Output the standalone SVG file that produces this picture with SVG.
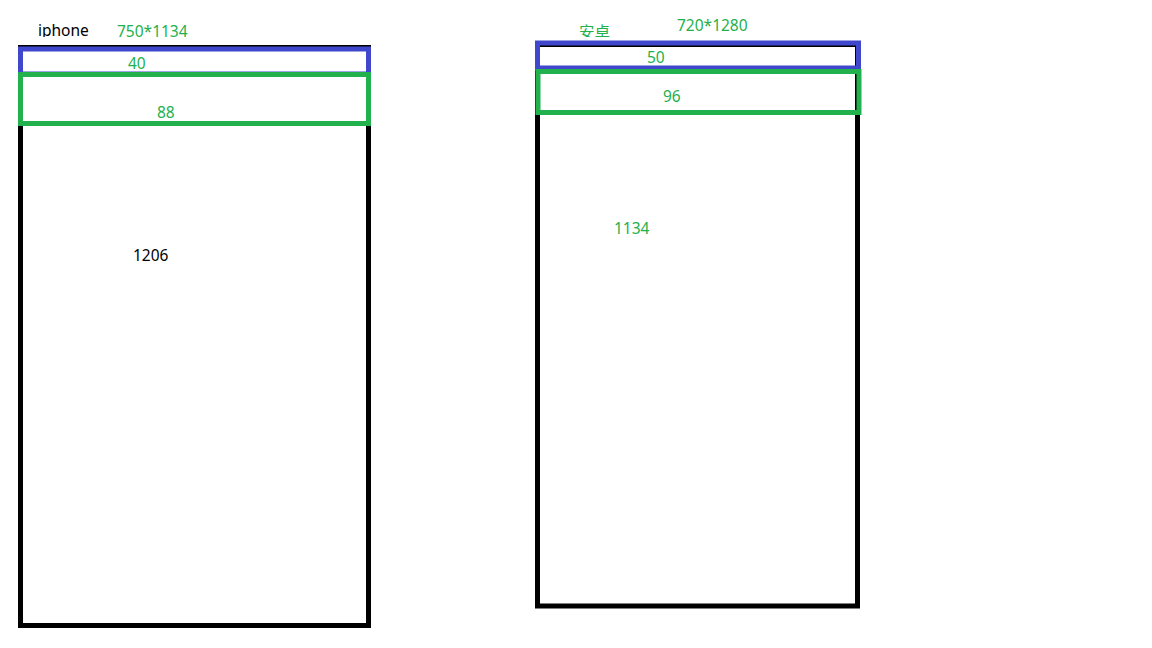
<svg xmlns="http://www.w3.org/2000/svg" width="1152" height="648" viewBox="0 0 1152 648">
  <defs>
    <style>
      .frame { fill: none; stroke: #000000; stroke-width: 5; }
      .status { fill: none; stroke: #3f48cc; stroke-width: 5; }
      .navbar { fill: none; stroke: #22b14c; stroke-width: 5; }
      text { font-family: "Noto Sans", "Noto Sans CJK SC", sans-serif; font-size: 15.5px; }
      .g { fill: #22b14c; }
      .k { fill: #000000; }
    </style>
    <clipPath id="topClip">
      <rect x="0" y="0" width="1152" height="37"/>
    </clipPath>
  </defs>
  <rect width="1152" height="648" fill="#ffffff"/>

  <!-- iPhone screen 750*1134 -->
  <g id="iphone">
    <rect class="frame" x="20.5" y="47.5" width="348" height="578"/>
    <rect class="status" x="20.5" y="49" width="348" height="25"/>
    <rect class="navbar" x="20.5" y="74.5" width="348" height="49"/>
    <text class="k" x="38" y="36" clip-path="url(#topClip)">iphone</text>
    <text class="g" x="117" y="37">750*1134</text>
    <text class="g" x="128" y="69">40</text>
    <text class="g" x="157" y="118">88</text>
    <text class="k" x="133" y="261">1206</text>
  </g>

  <!-- Android screen 720*1280 -->
  <g id="android">
    <rect class="frame" x="537.5" y="44.5" width="320" height="561.5"/>
    <rect class="status" x="537.5" y="43" width="321" height="25"/>
    <rect class="navbar" x="538" y="71.5" width="321" height="41"/>
    <text class="g" x="579" y="38" clip-path="url(#topClip)">安卓</text>
    <text class="g" x="677" y="31">720*1280</text>
    <text class="g" x="647" y="62.5">50</text>
    <text class="g" x="663" y="101.5">96</text>
    <text class="g" x="614" y="234">1134</text>
  </g>

  <g id="connectors"/>
</svg>
